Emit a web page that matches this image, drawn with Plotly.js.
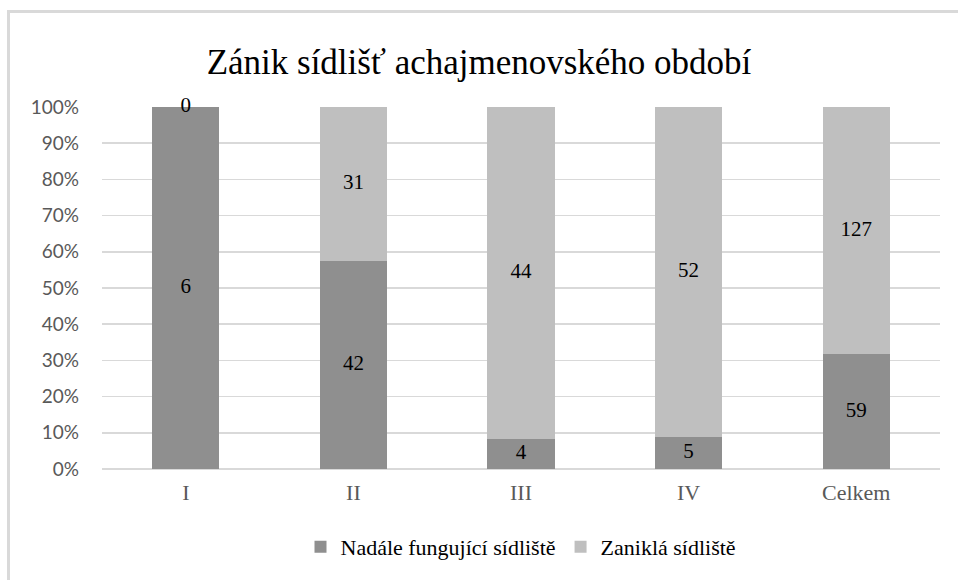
<!DOCTYPE html>
<html>
<head>
<meta charset="utf-8">
<script src="https://cdn.plot.ly/plotly-3.0.1.min.js"></script>
<style>
  html, body { margin: 0; padding: 0; background: #fff; }
  #wrap { position: relative; width: 958px; height: 580px; }
  #chart { width: 958px; height: 580px; }
  #frame { position: absolute; left: 7px; top: 10px; width: 960px; height: 580px;
           border-left: 3px solid #d9d9d9; border-top: 3px solid #d9d9d9; pointer-events: none; }
</style>
</head>
<body>
<div id="wrap">
  <div id="chart"></div>
  <div id="frame"></div>
</div>
<script>
const categories = ["I", "II", "III", "IV", "Celkem"];
const seriesNames = ["Nadále fungující sídliště", "Zaniklá sídliště"];
const fungujici = [6, 42, 4, 5, 59];
const zanikla = [0, 31, 44, 52, 127];
const yTickVals = [0, 10, 20, 30, 40, 50, 60, 70, 80, 90, 100];
const yTickText = ["0%", "10%", "20%", "30%", "40%", "50%", "60%", "70%", "80%", "90%", "100%"];

const totals = categories.map((c, i) => fungujici[i] + zanikla[i]);
const pctF = fungujici.map((v, i) => v / totals[i] * 100);
const pctZ = zanikla.map((v, i) => v / totals[i] * 100);

const serif = "Liberation Serif";
const labelFont = { family: serif, size: 21, color: "#000" };

const traces = [
  { type: "bar", name: seriesNames[0], x: categories, y: pctF,
    marker: { color: "#8f8f8f" }, hoverinfo: "skip" },
  { type: "bar", name: seriesNames[1], x: categories, y: pctZ,
    marker: { color: "#bfbfbf" }, hoverinfo: "skip" },
  { type: "scatter", mode: "text", showlegend: false, hoverinfo: "skip", cliponaxis: false,
    x: categories, y: pctF.map(p => p / 2),
    text: fungujici.map(String), textfont: labelFont, textposition: "middle center" },
  { type: "scatter", mode: "text", showlegend: false, hoverinfo: "skip", cliponaxis: false,
    x: categories, y: pctF.map((p, i) => p + pctZ[i] / 2),
    text: zanikla.map(String), textfont: labelFont, textposition: "middle center" }
];

const layout = {
  width: 958, height: 580,
  font: { family: serif, size: 17, color: "#000" },
  margin: { l: 102, r: 18, t: 107, b: 109 },
  paper_bgcolor: "rgba(0,0,0,0)", plot_bgcolor: "#fff",
  barmode: "stack", bargap: 0.6,
  title: { text: "Zánik sídlišť achajmenovského období",
           font: { family: serif, size: 35, color: "#000" },
           x: 0.5, xanchor: "center", y: 0.893, yanchor: "middle" },
  xaxis: { type: "category", showgrid: false, zeroline: false, showline: false,
           ticks: "", tickfont: { family: serif, size: 22, color: "#595959" },
           ticklabelstandoff: 8, fixedrange: true },
  yaxis: { range: [0, 100], tickvals: yTickVals, ticktext: yTickText,
           showgrid: true, gridcolor: "#d9d9d9", gridwidth: 1.5,
           zeroline: true, zerolinecolor: "#d9d9d9", zerolinewidth: 1.5,
           showline: false, ticks: "", ticklabelstandoff: 22,
           tickfont: { family: "Lato", size: 19, color: "#595959" },
           fixedrange: true },
  legend: { orientation: "h", x: 0.5, xanchor: "center", y: -0.215, yanchor: "middle",
            font: { family: serif, size: 22, color: "#000" },
            traceorder: "normal", itemwidth: 30, tracegroupgap: 0 },
  showlegend: true
};

Plotly.newPlot("chart", traces, layout, { displayModeBar: false, staticPlot: true });
</script>
</body>
</html>
